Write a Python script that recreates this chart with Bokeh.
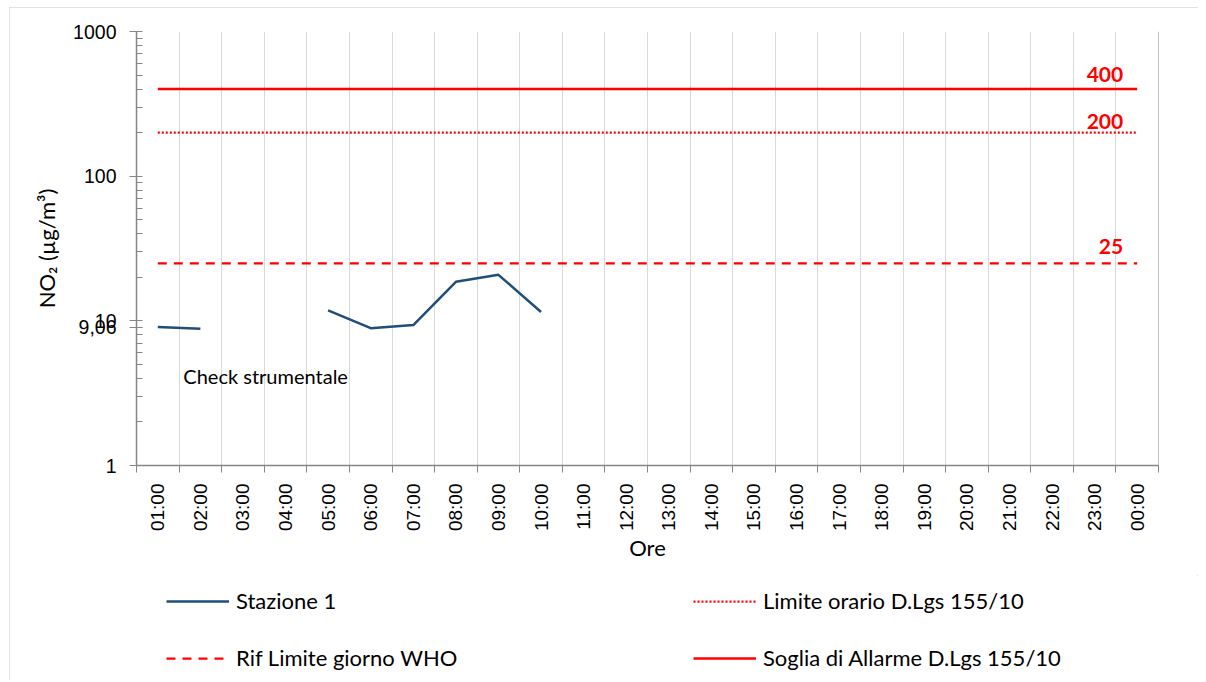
import math
from bokeh.plotting import figure
from bokeh.layouts import column
from bokeh.models import (Range1d, FixedTicker, Span, Label, Legend, LegendItem, Title)
from bokeh.core.properties import value
from bokeh.embed import file_html
from bokeh.resources import INLINE

# ---------------- data ----------------
hours = ["01:00", "02:00", "03:00", "04:00", "05:00", "06:00", "07:00", "08:00",
         "09:00", "10:00", "11:00", "12:00", "13:00", "14:00", "15:00", "16:00",
         "17:00", "18:00", "19:00", "20:00", "21:00", "22:00", "23:00", "00:00"]
stazione_1 = [9.06, 8.8, None, None, 11.8, 8.9, 9.35, 18.6,
              20.8, 11.5, None, None, None, None, None, None,
              None, None, None, None, None, None, None, None]
rif_who = 25
limite_orario = 200
soglia_allarme = 400
y_ticks = [1, 10, 100, 1000]
first_label = "9,06"
note_text = "Check strumentale"
series_names = ["Stazione 1", "Limite orario D.Lgs 155/10",
                "Rif Limite giorno WHO", "Soglia di Allarme D.Lgs 155/10"]

# ---------------- styles ----------------
RED = "#ff0000"
BLUE = "#1f4e79"
AXIS = "#868686"
GRID = "#d9d9d9"
CAL = "Lato"
ARIAL = "Liberation Sans"
STYLE_ST = dict(line_color=BLUE, line_width=2.5, line_join="round")
STYLE_OR = dict(line_color=RED, line_width=2.25, line_dash="2 2")
STYLE_WHO = dict(line_color=RED, line_width=2.25, line_dash="9 7")
STYLE_ALL = dict(line_color=RED, line_width=2.5)

xs = [i + 1 for i in range(len(hours))]
ys = [float("nan") if v is None else v for v in stazione_1]
bounds = [i + 0.5 for i in range(len(hours) + 1)]
minor_y = [m * d for d in (1, 10, 100) for m in range(2, 10)]

p = figure(frame_width=1022, frame_height=434, y_axis_type="log",
           x_range=Range1d(0.5, len(hours) + 0.5), y_range=Range1d(1, 1000),
           output_backend="svg", toolbar_location=None,
           min_border_left=127, min_border_right=40, min_border_top=24,
           min_border_bottom=110)
p.outline_line_color = None
p.background_fill_color = "white"
p.border_fill_color = "white"

# grid
p.ygrid.visible = False
p.xgrid.ticker = FixedTicker(ticks=bounds[1:-1])
p.xgrid.grid_line_color = GRID
p.xgrid.grid_line_width = 1
p.add_layout(Span(location=bounds[-1], dimension="height", line_color=AXIS, line_width=1))

# x axis
xa = p.xaxis[0]
xa.ticker = FixedTicker(ticks=xs, minor_ticks=bounds)
xa.major_label_overrides = {x: h for x, h in zip(xs, hours)}
xa.major_label_orientation = math.pi / 2
xa.major_tick_out = 0
xa.major_tick_in = 0
xa.minor_tick_out = 7
xa.minor_tick_in = 0
xa.minor_tick_line_color = AXIS
xa.axis_line_color = AXIS
xa.axis_line_width = 1.5
xa.major_label_standoff = 11
xa.major_label_text_font = ARIAL
xa.major_label_text_font_size = "19px"
xa.major_label_text_color = "#000000"
xa.axis_label = "Ore"
xa.axis_label_text_font = CAL
xa.axis_label_text_font_size = "22px"
xa.axis_label_text_font_style = "normal"
xa.axis_label_text_color = "#000000"
xa.axis_label_standoff = 0

# y axis (the first value's data label "9,06" sits beside the axis, as in the source)
ya = p.yaxis[0]
label_ticks = sorted(y_ticks + [stazione_1[0]])
ya.ticker = FixedTicker(ticks=label_ticks, minor_ticks=minor_y)
overrides = {t: str(t) for t in y_ticks}
overrides[stazione_1[0]] = first_label
ya.major_label_overrides = overrides
ya.major_tick_out = 7
ya.major_tick_in = 6
ya.minor_tick_out = 0
ya.minor_tick_in = 6
ya.major_tick_line_color = AXIS
ya.minor_tick_line_color = AXIS
ya.axis_line_color = AXIS
ya.axis_line_width = 1.5
ya.major_label_standoff = 13
ya.major_label_text_font = ARIAL
ya.major_label_text_font_size = "19.5px"
ya.major_label_text_color = "#000000"

# y axis title
p.add_layout(Title(text="NO\u2082 (\u00b5g/m\u00b3)", align="center", offset=63,
                   standoff=22, text_font=CAL, text_font_size="22px",
                   text_font_style="normal", text_color="#000000"), "left")

# series
r_all = p.line(xs, [soglia_allarme] * len(xs), **STYLE_ALL)
r_or = p.line(xs, [limite_orario] * len(xs), **STYLE_OR)
r_who = p.line(xs, [rif_who] * len(xs), **STYLE_WHO)
r_st = p.line(xs, ys, **STYLE_ST)

# value labels on the limit lines
for val, dy in ((soglia_allarme, -15), (limite_orario, -11), (rif_who, -17)):
    p.text(x=[xs[-1]], y=[val], text=[str(val)], x_offset=-14, y_offset=dy,
           text_align="right", text_baseline="alphabetic",
           text_font=value(CAL), text_font_style="bold",
           text_font_size="21px", text_color=RED)

# note
p.add_layout(Label(x=1.6, y=4.15, text=note_text, text_align="left",
                   text_baseline="middle", text_font=CAL,
                   text_font_size="20px", text_color="#000000"))

# ---------------- legend panel ----------------
q = figure(width=1189, height=105, output_backend="svg", toolbar_location=None,
           x_axis_location=None, y_axis_location=None,
           min_border_left=0, min_border_right=0, min_border_top=0, min_border_bottom=0,
           x_range=Range1d(0, 1), y_range=Range1d(0, 1))
q.outline_line_color = None
q.xgrid.visible = False
q.ygrid.visible = False
q.border_fill_color = "white"
nan = [float("nan")]
l_st = q.line(nan, nan, **STYLE_ST)
l_or = q.line(nan, nan, **STYLE_OR)
l_who = q.line(nan, nan, **STYLE_WHO)
l_all = q.line(nan, nan, **STYLE_ALL)

legend = Legend(items=[
    LegendItem(label=series_names[0], renderers=[l_st]),
    LegendItem(label=series_names[1], renderers=[l_or]),
    LegendItem(label=series_names[2], renderers=[l_who]),
    LegendItem(label=series_names[3], renderers=[l_all]),
], location=(30, 9), orientation="horizontal", ncols=2,
    glyph_width=63, glyph_height=20, label_standoff=7, label_width=427,
    label_height=27, spacing=30, padding=0, margin=0,
    border_line_alpha=0, background_fill_alpha=0,
    label_text_font=CAL, label_text_font_size="22px", label_text_color="#000000")
q.add_layout(legend)

layout = column(p, q, spacing=0)
layout.margin = (7, 0, 0, 9)
layout.styles = {"outline": "1px solid #d9d9d9", "outline-offset": "-1px"}

open("out.html", "w").write(file_html(layout, INLINE))
